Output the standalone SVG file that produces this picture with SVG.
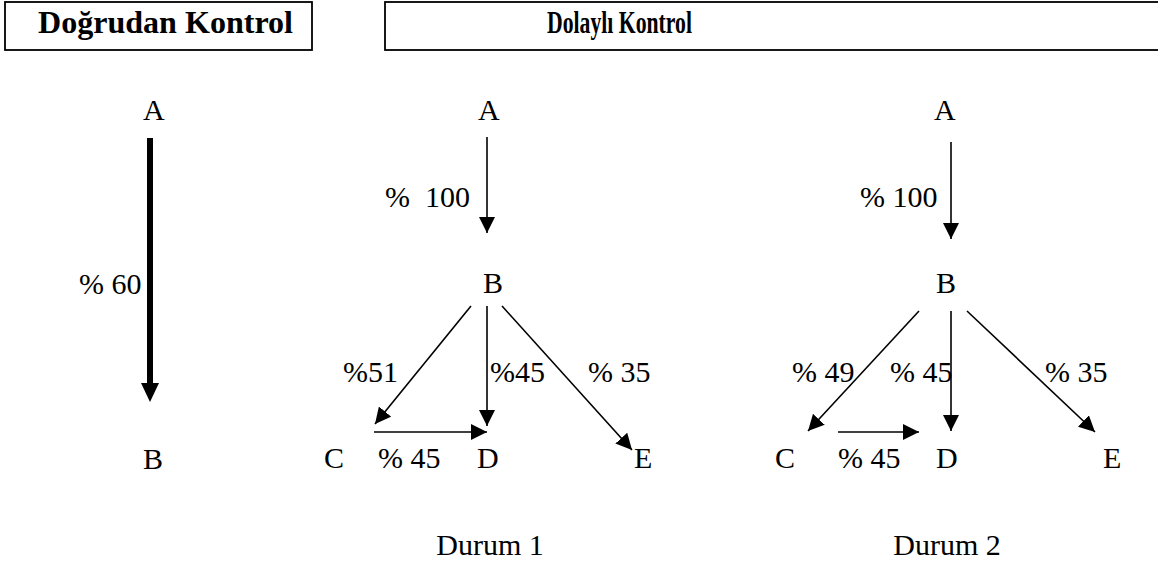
<svg xmlns="http://www.w3.org/2000/svg" width="1158" height="564" viewBox="0 0 1158 564">
<defs>
  <marker id="ah" markerUnits="userSpaceOnUse" viewBox="0 0 16 16" markerWidth="16" markerHeight="16" refX="16" refY="8" orient="auto">
    <path d="M0,0 L16,8 L0,16 z" fill="#000"/>
  </marker>
</defs>
<rect width="1158" height="564" fill="#fff"/>
<g font-family="Liberation Serif, Times New Roman, serif" font-weight="bold" font-size="31" fill="#000">
  <g id="header-direct">
    <rect x="5" y="2" width="307" height="48" fill="#fff" stroke="#000" stroke-width="1.8"/>
    <text x="38" y="33" textLength="255" lengthAdjust="spacingAndGlyphs">Doğrudan Kontrol</text>
  </g>
  <g id="header-indirect">
    <rect x="385" y="2" width="780" height="48" fill="#fff" stroke="#000" stroke-width="1.8"/>
    <text x="547" y="33" textLength="145" lengthAdjust="spacingAndGlyphs">Dolaylı Kontrol</text>
  </g>
</g>
<g id="connectors" stroke="#000" stroke-width="1.6" fill="none">
  <line x1="150" y1="138" x2="150" y2="385" stroke-width="6"/>
  <polygon points="141,383 159,383 150,402" fill="#000" stroke="none"/>
  <line x1="487" y1="137" x2="487" y2="233" marker-end="url(#ah)"/>
  <line x1="471" y1="306" x2="375" y2="424" marker-end="url(#ah)"/>
  <line x1="487" y1="306" x2="487" y2="426" marker-end="url(#ah)"/>
  <line x1="502" y1="306" x2="632" y2="450" marker-end="url(#ah)"/>
  <line x1="374" y1="432" x2="487" y2="432" marker-end="url(#ah)"/>
  <line x1="951" y1="142" x2="951" y2="239" marker-end="url(#ah)"/>
  <line x1="919" y1="311" x2="808" y2="431" marker-end="url(#ah)"/>
  <line x1="951" y1="311" x2="951" y2="431" marker-end="url(#ah)"/>
  <line x1="967" y1="311" x2="1095" y2="432" marker-end="url(#ah)"/>
  <line x1="838" y1="432" x2="919" y2="432" marker-end="url(#ah)"/>
</g>
<g font-family="Liberation Serif, Times New Roman, serif" font-size="30" fill="#000">
  <g id="labels">
    <text x="79" y="294">% 60</text>
    <text x="385" y="207">%&#160; 100</text>
    <text x="343" y="382">%51</text>
    <text x="490" y="382">%45</text>
    <text x="588" y="382">% 35</text>
    <text x="378" y="468">% 45</text>
    <text x="860" y="207">% 100</text>
    <text x="792" y="382">% 49</text>
    <text x="890" y="382">% 45</text>
    <text x="1045" y="382">% 35</text>
    <text x="838" y="468">% 45</text>
  </g>
  <g id="direct-A"><text x="143" y="120">A</text></g>
  <g id="direct-B"><text x="143" y="469">B</text></g>
  <g id="d1-A"><text x="478" y="120">A</text></g>
  <g id="d1-B"><text x="483" y="293">B</text></g>
  <g id="d1-C"><text x="324" y="468">C</text></g>
  <g id="d1-D"><text x="477" y="468">D</text></g>
  <g id="d1-E"><text x="634" y="468">E</text></g>
  <g id="d1-title"><text x="490" y="555" text-anchor="middle">Durum 1</text></g>
  <g id="d2-A"><text x="934" y="120">A</text></g>
  <g id="d2-B"><text x="936" y="293">B</text></g>
  <g id="d2-C"><text x="775" y="468">C</text></g>
  <g id="d2-D"><text x="936" y="468">D</text></g>
  <g id="d2-E"><text x="1103" y="468">E</text></g>
  <g id="d2-title"><text x="947" y="555" text-anchor="middle">Durum 2</text></g>
</g>
</svg>
